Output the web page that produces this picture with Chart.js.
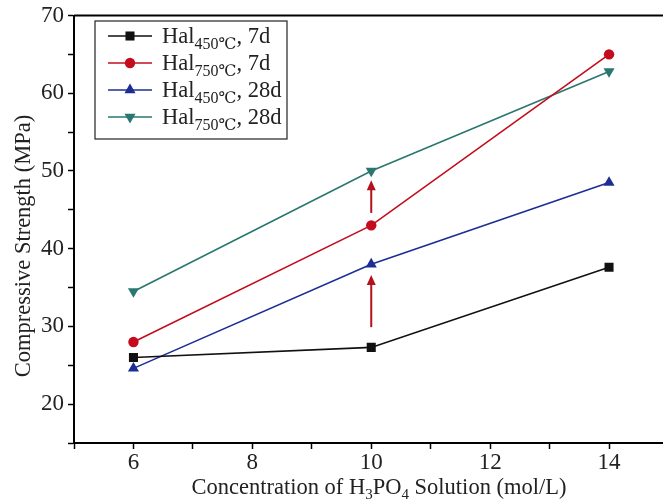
<!DOCTYPE html>
<html>
<head>
<meta charset="utf-8">
<script src="https://cdn.jsdelivr.net/npm/chart.js@4/dist/chart.umd.min.js"></script>
<style>
  html, body { margin: 0; padding: 0; background: #fff; }
  #wrap { width: 663px; height: 502px; position: relative; }
</style>
</head>
<body>
<div id="wrap"><canvas id="strengthChart"></canvas></div>
<script>
// H3PO4 concentration (mol/L)
const concentrations = [6, 10, 14];

// compressive strength (MPa)
const hal450_7d = [26.0, 27.3, 37.6];
const hal750_7d = [28.0, 43.0, 65.0];
const hal450_28d = [24.6, 38.0, 48.5];
const hal750_28d = [34.5, 50.0, 62.8];

const seriesTemps = ['450\u2103', '750\u2103', '450\u2103', '750\u2103'];
const seriesAges = ['7d', '7d', '28d', '28d'];
const seriesColors = ['#111111', '#c40c1c', '#1c2e96', '#2a7770'];
const seriesStyles = ['rect', 'circle', 'triangle', 'triangle'];
const seriesRotation = [0, 0, 0, 180];
const seriesRadius = [6.4, 5.2, 6.4, 6.4];

// red arrows at 10 mol/L
const arrowX = [10, 10];
const arrowFrom = [29.9, 44.6];
const arrowTo = [36.6, 48.8];

const xTickLabels = ['6', '8', '10', '12', '14'];
const yTickLabels = ['20', '30', '40', '50', '60', '70'];

const SERIF = '"Liberation Serif", "DejaVu Serif", "Noto Sans CJK SC", serif';

const allSeries = [hal450_7d, hal750_7d, hal450_28d, hal750_28d];

const datasets = allSeries.map((vals, i) => ({
  label: 'Hal' + seriesTemps[i] + ', ' + seriesAges[i],
  data: concentrations.map((c, j) => ({ x: c, y: vals[j] })),
  borderColor: seriesColors[i],
  backgroundColor: seriesColors[i],
  borderWidth: 1.6,
  pointStyle: seriesStyles[i],
  pointRotation: seriesRotation[i],
  pointRadius: seriesRadius[i],
  pointBorderWidth: 0,
  tension: 0,
}));

// draws a text run where pieces can be subscripts
function drawRich(ctx, parts, x, y, size, subSize, subShift) {
  let cx = x;
  parts.forEach((p) => {
    const s = p.sub ? subSize : size;
    ctx.font = s + 'px ' + SERIF;
    ctx.fillText(p.t, cx, y + (p.sub ? subShift : 0));
    cx += ctx.measureText(p.t).width;
  });
  return cx - x;
}

function richWidth(ctx, parts, size, subSize) {
  let w = 0;
  parts.forEach((p) => {
    ctx.font = (p.sub ? subSize : size) + 'px ' + SERIF;
    w += ctx.measureText(p.t).width;
  });
  return w;
}

const decorPlugin = {
  id: 'decor',
  afterDraw(chart) {
    const ctx = chart.ctx;
    const area = chart.chartArea;
    const xs = chart.scales.x;
    const ys = chart.scales.y;
    ctx.save();

    // top frame line
    ctx.strokeStyle = '#000';
    ctx.lineWidth = 2;
    ctx.beginPath();
    ctx.moveTo(area.left, area.top);
    ctx.lineTo(chart.width, area.top);
    ctx.stroke();
    // x axis line continues to the edge
    ctx.beginPath();
    ctx.moveTo(area.right - 2, area.bottom);
    ctx.lineTo(chart.width, area.bottom);
    ctx.stroke();

    // arrows
    ctx.strokeStyle = '#b3111e';
    ctx.fillStyle = '#b3111e';
    ctx.lineWidth = 2;
    arrowX.forEach((ax, i) => {
      const px = xs.getPixelForValue(ax);
      const y0 = ys.getPixelForValue(arrowFrom[i]);
      const y1 = ys.getPixelForValue(arrowTo[i]);
      ctx.beginPath();
      ctx.moveTo(px, y0);
      ctx.lineTo(px, y1 + 8);
      ctx.stroke();
      ctx.beginPath();
      ctx.moveTo(px, y1);
      ctx.lineTo(px - 4.5, y1 + 10);
      ctx.lineTo(px + 4.5, y1 + 10);
      ctx.closePath();
      ctx.fill();
    });

    // legend
    const lx = 95, ly = 21, lw = 192, lh = 118;
    ctx.strokeStyle = '#222';
    ctx.lineWidth = 1.2;
    ctx.strokeRect(lx, ly, lw, lh);
    ctx.textBaseline = 'alphabetic';
    ctx.textAlign = 'left';
    allSeries.forEach((_, i) => {
      const cy = 36 + i * 27;
      ctx.strokeStyle = seriesColors[i];
      ctx.fillStyle = seriesColors[i];
      ctx.lineWidth = 1.6;
      ctx.beginPath();
      ctx.moveTo(108, cy);
      ctx.lineTo(152, cy);
      ctx.stroke();
      Chart.helpers.drawPoint(ctx, {
        pointStyle: seriesStyles[i],
        radius: seriesRadius[i],
        rotation: seriesRotation[i],
        borderWidth: 0,
      }, 130, cy);
      ctx.fillStyle = '#222';
      drawRich(ctx, [
        { t: 'Hal' },
        { t: seriesTemps[i], sub: true },
        { t: ', ' + seriesAges[i] },
      ], 162, cy + 7, 22.5, 16, 6);
    });

    // x axis title
    ctx.fillStyle = '#222';
    const xParts = [
      { t: 'Concentration of H' },
      { t: '3', sub: true },
      { t: 'PO' },
      { t: '4', sub: true },
      { t: ' Solution (mol/L)' },
    ];
    const xw = richWidth(ctx, xParts, 22.5, 15);
    drawRich(ctx, xParts, 379 - xw / 2, 494, 22.5, 15, 5);

    // y axis title
    ctx.translate(30, 246);
    ctx.rotate(-Math.PI / 2);
    ctx.font = '22.5px ' + SERIF;
    ctx.textAlign = 'center';
    ctx.fillText('Compressive Strength (MPa)', 0, 0);

    ctx.restore();
  },
};

new Chart(document.getElementById('strengthChart'), {
  type: 'line',
  data: { datasets },
  options: {
    responsive: true,
    maintainAspectRatio: false,
    animation: false,
    layout: { padding: { top: 15, right: 0, left: 0, bottom: 0 } },
    plugins: {
      legend: { display: false },
      tooltip: { enabled: false },
    },
    scales: {
      x: {
        type: 'linear',
        min: 5,
        max: 14.8,
        afterBuildTicks: (scale) => {
          const t = [];
          for (let v = 5; v <= 14; v++) t.push({ value: v });
          scale.ticks = t;
        },
        afterFit: (scale) => { scale.height = 59; },
        border: { display: true, color: '#000', width: 2 },
        grid: { drawOnChartArea: false, drawTicks: true, tickLength: 6, tickColor: '#000', tickWidth: 1.5 },
        ticks: {
          padding: 2,
          color: '#222',
          font: { family: SERIF, size: 23, lineHeight: 1 },
          maxRotation: 0,
          autoSkip: false,
          callback: (v) => (xTickLabels.includes(String(v)) ? String(v) : ''),
        },
      },
      y: {
        min: 15,
        max: 70,
        afterBuildTicks: (scale) => {
          const t = [];
          for (let v = 15; v <= 70; v += 5) t.push({ value: v });
          scale.ticks = t;
        },
        afterFit: (scale) => { scale.width = 74; },
        border: { display: true, color: '#000', width: 2 },
        grid: { drawOnChartArea: false, drawTicks: true, tickLength: 6, tickColor: '#000', tickWidth: 1.5 },
        ticks: {
          padding: 4,
          color: '#222',
          font: { family: SERIF, size: 23, lineHeight: 1 },
          autoSkip: false,
          callback: (v) => (yTickLabels.includes(String(v)) ? String(v) : ''),
        },
      },
    },
  },
  plugins: [decorPlugin],
});
</script>
</body>
</html>
